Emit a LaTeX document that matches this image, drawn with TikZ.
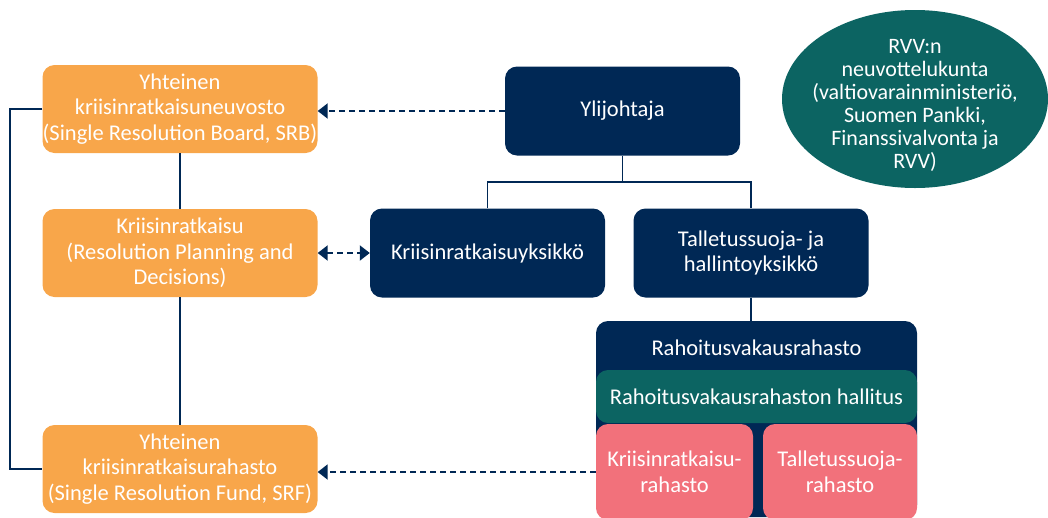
\documentclass[tikz,border=0pt]{standalone}
\usepackage{fontspec}
\setmainfont{Carlito}
\usetikzlibrary{arrows.meta,shapes.geometric}
\definecolor{navy}{HTML}{002855}
\definecolor{orng}{HTML}{F8A64A}
\definecolor{teal}{HTML}{0C6462}
\definecolor{pink}{HTML}{F2717B}
\begin{document}
\begin{tikzpicture}[x=1pt,y=-1pt,
  base/.style={rectangle,rounded corners=12pt,text=white,align=center,inner sep=0pt,
    font=\fontsize{22.5}{25.5}\selectfont},
  obox/.style={base,fill=orng,minimum width=275pt,minimum height=88pt},
  nbox/.style={base,fill=navy,minimum width=235pt,minimum height=89pt},
  conn/.style={draw=navy,line width=1.8pt},
  dasharrow/.style={draw=navy,line width=2pt,dash pattern=on 6pt off 4pt,-{Triangle[length=10pt,width=15pt]}},
  dblarrow/.style={draw=navy,line width=2pt,dash pattern=on 6pt off 4pt,{Triangle[length=10pt,width=15pt]}-{Triangle[length=10pt,width=15pt]}}
]
\useasboundingbox (0,0) rectangle (1048,517);
% left column
\node[obox] (srb) at (180,109) {Yhteinen\\kriisinratkaisuneuvosto\\(Single Resolution Board, SRB)};
\node[obox] (krp) at (180,253) {Kriisinratkaisu\\(Resolution Planning and\\Decisions)};
\node[obox] (srf) at (180,469) {Yhteinen\\kriisinratkaisurahasto\\(Single Resolution Fund, SRF)};
% navy units
\node[nbox] (ylij) at (622.5,111) {Ylijohtaja};
\node[nbox] (kyks) at (487.5,253) {Kriisinratkaisuyksikkö};
\node[nbox] (tyks) at (751,253) {Talletussuoja- ja\\hallintoyksikkö};
% fund container
\node[base,fill=navy,minimum width=321pt,minimum height=196pt] (rvr) at (756.5,419) {};
\node[base,fill=none] (rvrt) at (756.5,348) {Rahoitusvakausrahasto};
\node[base,fill=teal,minimum width=321pt,minimum height=53pt] (hall) at (756.5,396.5) {Rahoitusvakausrahaston hallitus};
\node[base,fill=pink,minimum width=157pt,minimum height=96pt] (krr) at (674.5,472) {Kriisinratkaisu-\\rahasto};
\node[base,fill=pink,minimum width=154pt,minimum height=96pt] (tsr) at (840,472) {Talletussuoja-\\rahasto};
% ellipse
\node[ellipse,fill=teal,inner sep=0pt,minimum width=266pt,minimum height=178pt] (neuv) at (915,99) {};
\node[text=white,align=center,inner sep=0pt,font=\fontsize{22}{23}\selectfont] (neuvt) at (915,105)
  {RVV:n\\neuvottelukunta\\(valtiovarainministeriö,\\Suomen Pankki,\\Finanssivalvonta ja\\RVV)};
% connectors
\draw[conn] (srb.south) -- (krp.north);
\draw[conn] (krp.south) -- (srf.north);
\draw[conn] (srb.west) -- ++(-32,0) |- (srf.west);
\draw[conn] (ylij.south) -- ++(0,26) coordinate (j);
\draw[conn] (kyks.north) |- (j) -| (tyks.north);
\draw[conn] (tyks.south) -- (tyks.south |- rvr.north);
\draw[dasharrow] (ylij.west) -- (ylij.west -| srb.east);
\draw[dblarrow] (krp.east) -- (kyks.west);
\draw[dasharrow] (krr.west) -- (krr.west -| srf.east);
\end{tikzpicture}
\end{document}
